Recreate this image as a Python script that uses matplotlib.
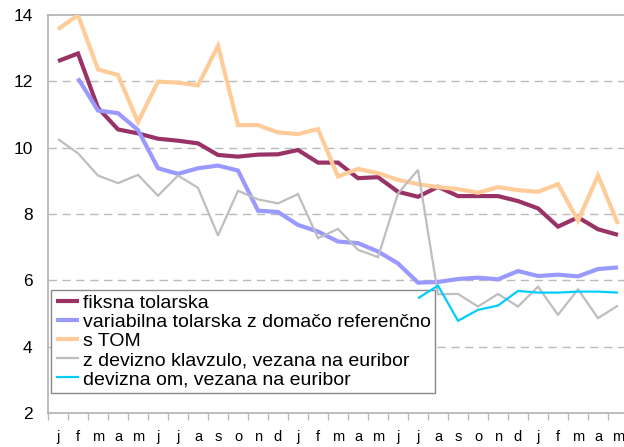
import matplotlib
matplotlib.use("Agg")
import matplotlib.pyplot as plt
import numpy as np

months = ["j", "f", "m", "a", "m", "j", "j", "a", "s", "o", "n", "d",
          "j", "f", "m", "a", "m", "j", "j", "a", "s", "o", "n", "d",
          "j", "f", "m", "a", "m"]

fiksna = [12.61, 12.84, 11.2, 10.55, 10.43, 10.27, 10.21, 10.13, 9.78, 9.73,
          9.79, 9.8, 9.93, 9.55, 9.55, 9.08, 9.11, 8.67, 8.52, 8.82, 8.54,
          8.54, 8.54, 8.39, 8.17, 7.62, 7.9, 7.54, 7.37]
variabilna = [None, 12.09, 11.12, 11.04, 10.53, 9.38, 9.21, 9.38, 9.46, 9.31,
              8.1, 8.06, 7.67, 7.47, 7.17, 7.12, 6.87, 6.51, 5.93, 5.95, 6.04,
              6.08, 6.03, 6.28, 6.13, 6.17, 6.12, 6.34, 6.39]
stom = [13.57, 14.0, 12.36, 12.19, 10.77, 11.99, 11.96, 11.88, 13.07, 10.68,
        10.68, 10.46, 10.41, 10.56, 9.13, 9.36, 9.23, 9.03, 8.9, 8.81, 8.75,
        8.64, 8.81, 8.72, 8.67, 8.9, 7.8, 9.16, 7.7]
devizna_kl = [10.26, 9.83, 9.16, 8.93, 9.18, 8.55, 9.16, 8.79, 7.35, 8.7,
              8.44, 8.32, 8.6, 7.27, 7.55, 6.92, 6.7, 8.62, 9.33, 5.58, 5.59,
              5.21, 5.59, 5.21, 5.81, 4.96, 5.73, 4.86, 5.24]
devizna_om = [None] * 18 + [5.46, 5.84, 4.78, 5.11, 5.24, 5.68, 5.63, 5.63,
                            5.66, 5.66, 5.63]

labels = ["fiksna tolarska",
          "variabilna tolarska z domačo referenčno",
          "s TOM",
          "z devizno klavzulo, vezana na euribor",
          "devizna om, vezana na euribor"]

def arr(v):
    return np.array([np.nan if x is None else x for x in v], dtype=float)

plt.rcParams['font.family'] = ['Liberation Sans', 'DejaVu Sans']

W, H = 624, 447
fig = plt.figure(figsize=(W / 100, H / 100), dpi=100)
ax = fig.add_axes([48 / W, 34 / H, 580 / W, 398 / H])

x = np.arange(len(months))
series = [
    (fiksna, "#993366", 3.0),
    (variabilna, "#9999FF", 3.0),
    (stom, "#FFCC99", 3.0),
    (devizna_kl, "#BEBEBE", 1.6),
    (devizna_om, "#00CCFF", 1.6),
]
handles = []
for (vals, col, lw), lab in zip(series, labels):
    h, = ax.plot(x, arr(vals), color=col, lw=lw, label=lab, zorder=3,
                 solid_joinstyle='miter', solid_capstyle='butt')
    handles.append(h)

ax.set_xlim(-0.5, len(months) - 0.5)
ax.set_ylim(2, 14)
ax.set_yticks([2, 4, 6, 8, 10, 12, 14])
ax.set_yticklabels(["2", "4", "6", "8", "10", "12", "14"], fontsize=12.5)
ax.tick_params(axis='y', length=0, pad=11)

ax.set_xticks(x)
ax.set_xticklabels(months, fontsize=10.5)
ax.set_xticks(np.arange(-0.5, len(months)), minor=True)
ax.tick_params(axis='x', which='major', length=0, pad=12)
ax.tick_params(axis='x', which='minor', length=5, color='#BBBBBB', width=1)

for yv in [4, 6, 8, 10, 12]:
    ax.axhline(yv, color='#BBBBBB', lw=1, ls=(0, (6, 4)), zorder=0.5)

for s in ['left', 'bottom', 'top']:
    ax.spines[s].set_color('#B0B0B0')
    ax.spines[s].set_linewidth(1.2)
ax.spines['right'].set_visible(False)

leg = ax.legend(handles=handles, labels=labels,
                loc='upper left', bbox_to_anchor=(51 / W, 1 - 290 / H),
                bbox_transform=fig.transFigure, fontsize=14,
                frameon=True, fancybox=False, framealpha=1,
                edgecolor='#888888', borderpad=0.24, labelspacing=0.07,
                handlelength=1.2, handletextpad=0.2, borderaxespad=0)
leg.get_frame().set_linewidth(1.0)
leg.set_zorder(2)

fig.savefig("out.png", dpi=100)
